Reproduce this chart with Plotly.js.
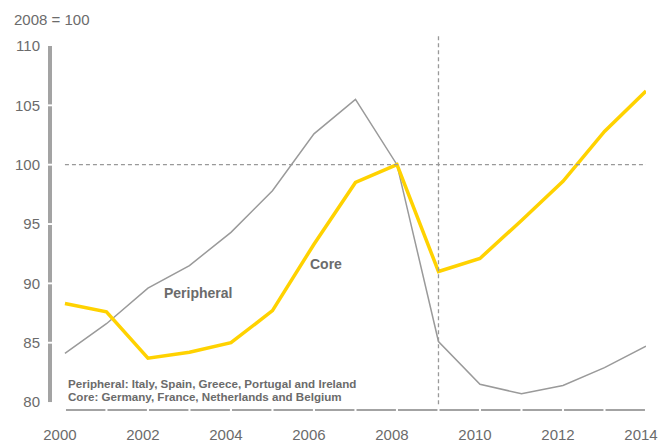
<!DOCTYPE html>
<html>
<head>
<meta charset="utf-8">
<script src="https://cdn.plot.ly/plotly-3.0.1.min.js"></script>
<style>html,body{margin:0;padding:0;background:#fff;}#chart{width:672px;height:444px;}</style>
</head>
<body>
<div id="chart"></div>
<script>
const years = [2000,2001,2002,2003,2004,2005,2006,2007,2008,2009,2010,2011,2012,2013,2014];
const peripheral = [84.1,86.6,89.6,91.5,94.3,97.8,102.6,105.5,100.0,85.1,81.5,80.7,81.4,82.9,84.7];
const core = [88.3,87.6,83.7,84.2,85.0,87.7,93.3,98.5,100.0,91.0,92.1,95.3,98.6,102.8,106.2];
const yTicks = [80,85,90,95,100,105,110];
const xTicks = [2000,2002,2004,2006,2008,2010,2012,2014];
const baseValue = 100;
const crisisYear = 2009;
const noteLines = ['Peripheral: Italy, Spain, Greece, Portugal and Ireland','Core: Germany, France, Netherlands and Belgium'];

const gray = '#999999';
const axisGray = '#a3a3a3';
const textGray = '#6b6b6b';
const font = 'Liberation Sans, Arial, sans-serif';

const shapes = [];
// segmented y axis line
for (let i = 0; i < yTicks.length - 1; i++) {
  shapes.push({type:'line', xref:'paper', yref:'y', x0:0, x1:0,
    y0:yTicks[i] + (i === 0 ? 0 : 0.08), y1:yTicks[i+1] - (i+1 === yTicks.length-1 ? 0 : 0.08),
    line:{color:axisGray, width:4}});
}
// segmented x axis line
for (let i = 0; i < years.length - 1; i++) {
  shapes.push({type:'line', xref:'x', yref:'paper', x0:years[i] + 0.025, x1:years[i+1] - 0.025,
    y0:0, y1:0, line:{color:axisGray, width:2}});
}
// reference lines
shapes.push({type:'line', xref:'x', yref:'y', x0:years[0], x1:years[years.length-1], y0:baseValue, y1:baseValue,
  line:{color:gray, width:1.3, dash:'4px,3px'}});
shapes.push({type:'line', xref:'x', yref:'paper', x0:crisisYear, x1:crisisYear, y0:0.016, y1:1.03,
  line:{color:gray, width:1.3, dash:'4px,3px'}});

const traces = [
  {x:years, y:peripheral, type:'scatter', mode:'lines', line:{color:'#9a9a9a', width:1.5}, name:'Peripheral', hoverinfo:'skip'},
  {x:years, y:core, type:'scatter', mode:'lines', line:{color:'#FFD200', width:3.5}, name:'Core', hoverinfo:'skip'}
];

const layout = {
  width:672, height:444,
  margin:{l:50, r:26, t:46, b:34},
  paper_bgcolor:'#fff', plot_bgcolor:'#fff',
  showlegend:false,
  font:{family:font, color:textGray},
  title:{text:'2008 = 100', font:{family:font, size:15, color:textGray},
    xref:'container', yref:'container', x:14/672, xanchor:'left', y:1 - 20/444, yanchor:'middle'},
  xaxis:{range:[1999.64, 2014], tickvals:xTicks, ticktext:xTicks.map(String), showgrid:false, zeroline:false,
    showline:false, ticks:'', tickfont:{family:font, size:15, color:textGray}, ticklabelstandoff:14, ticklabelshift:-5, fixedrange:true},
  yaxis:{range:[79.33, 110], tickvals:yTicks, ticktext:yTicks.map(String), showgrid:false, zeroline:false,
    showline:false, ticks:'', tickfont:{family:font, size:15, color:textGray}, ticklabelstandoff:9, fixedrange:true},
  shapes:shapes,
  annotations:[
    {text:'<b>Peripheral</b>', x:2003.21, y:89.2, xref:'x', yref:'y', showarrow:false, font:{family:font, size:14, color:textGray}},
    {text:'<b>Core</b>', x:2006.29, y:91.6, xref:'x', yref:'y', showarrow:false, font:{family:font, size:14, color:textGray}},
    {text:'<b>' + noteLines[0] + '</b>', x:(66-50)/596, y:81.6, xref:'paper', yref:'y', xanchor:'left', yanchor:'middle', showarrow:false, font:{family:font, size:11.6, color:textGray}},
    {text:'<b>' + noteLines[1] + '</b>', x:(66-50)/596, y:80.5, xref:'paper', yref:'y', xanchor:'left', yanchor:'middle', showarrow:false, font:{family:font, size:11.6, color:textGray}}
  ]
};

Plotly.newPlot('chart', traces, layout, {displayModeBar:false, staticPlot:true});
</script>
</body>
</html>
